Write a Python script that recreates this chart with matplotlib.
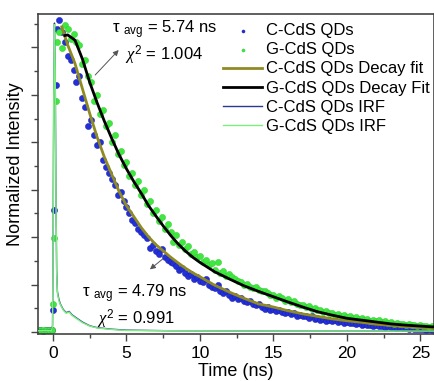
import numpy as np
import matplotlib
matplotlib.use("Agg")
import matplotlib.pyplot as plt

plt.rcParams['font.family'] = ['Liberation Sans', 'DejaVu Sans']
plt.rcParams['mathtext.fontset'] = 'custom'
plt.rcParams['mathtext.rm'] = 'Liberation Sans'
plt.rcParams['mathtext.it'] = 'Liberation Serif:italic'

# channel times (ns) of the TCSPC histograms
time_ns = [-0.9, -0.7, -0.5, -0.3, -0.1, 0.0, 0.1, 0.2, 0.3, 0.4,
           0.6, 0.8, 1.0, 1.2, 1.4, 1.6, 1.8, 2.0, 2.2, 2.4,
           2.6, 2.8, 3.0, 3.2, 3.4, 3.6, 3.8, 4.0, 4.2, 4.4,
           4.6, 4.8, 5.0, 5.2, 5.4, 5.6, 5.8, 6.0, 6.2, 6.4,
           6.6, 6.8, 7.0, 7.2, 7.4, 7.6, 7.8, 8.0, 8.2, 8.4,
           8.6, 8.8, 9.0, 9.2, 9.4, 9.6, 9.8, 10.0, 10.2, 10.4,
           10.6, 10.8, 11.0, 11.2, 11.4, 11.6, 11.8, 12.0, 12.2, 12.4,
           12.6, 12.8, 13.0, 13.2, 13.4, 13.6, 13.8, 14.0, 14.2, 14.4,
           14.6, 14.8, 15.0, 15.2, 15.4, 15.6, 15.8, 16.0, 16.2, 16.4,
           16.6, 16.8, 17.0, 17.2, 17.4, 17.6, 17.8, 18.0, 18.2, 18.4,
           18.6, 18.8, 19.0, 19.2, 19.4, 19.6, 19.8, 20.0, 20.2, 20.4,
           20.6, 20.8, 21.0, 21.2, 21.4, 21.6, 21.8, 22.0, 22.2, 22.4,
           22.6, 22.8, 23.0, 23.2, 23.4, 23.6, 23.8, 24.0, 24.2, 24.4,
           24.6, 24.8, 25.0, 25.2, 25.4, 25.6, 25.8]

c_cds = [0.006, 0.004, 0.007, 0.005, 0.006, 0.07, 0.39, 0.79, 0.97, 1.0,
         0.96, 0.93, 0.885, 0.87, 0.84, 0.80, 0.82, 0.75, 0.72, 0.66,
         0.68, 0.63, 0.60, 0.61, 0.55, 0.53, 0.51, 0.49, 0.47, 0.44,
         0.45, 0.42, 0.40, 0.38, 0.36, 0.35, 0.33, 0.32, 0.31, 0.30,
         0.27, 0.28, 0.26, 0.25, 0.265, 0.24, 0.23, 0.225, 0.22, 0.21,
         0.20, 0.205, 0.19, 0.18, 0.185, 0.17, 0.175, 0.165, 0.16, 0.17,
         0.15, 0.145, 0.14, 0.15, 0.13, 0.125, 0.13, 0.12, 0.11, 0.115,
         0.105, 0.11, 0.10, 0.095, 0.10, 0.09, 0.085, 0.09, 0.08, 0.075,
         0.08, 0.07, 0.075, 0.068, 0.07, 0.065, 0.06, 0.065, 0.058, 0.06,
         0.052, 0.055, 0.05, 0.052, 0.045, 0.05, 0.042, 0.045, 0.04, 0.043,
         0.036, 0.04, 0.035, 0.038, 0.032, 0.035, 0.03, 0.033, 0.028, 0.03,
         0.025, 0.028, 0.024, 0.027, 0.022, 0.024, 0.02, 0.022, 0.018, 0.02,
         0.016, 0.018, 0.015, 0.017, 0.013, 0.015, 0.012, 0.014, 0.011, 0.012,
         0.01, 0.011, 0.009, 0.01, 0.008, 0.009, 0.008]

g_cds = [0.008, 0.005, 0.007, 0.006, 0.008, 0.09, 0.30, 0.74, 0.93, 0.96,
         0.91, 0.985, 0.97, 0.94, 0.955, 0.93, 0.92, 0.86, 0.87, 0.82,
         0.80, 0.74, 0.76, 0.70, 0.71, 0.66, 0.67, 0.61, 0.63, 0.57,
         0.58, 0.535, 0.545, 0.50, 0.51, 0.47, 0.485, 0.44, 0.455, 0.41,
         0.42, 0.38, 0.39, 0.355, 0.37, 0.33, 0.345, 0.32, 0.29, 0.31,
         0.28, 0.29, 0.265, 0.275, 0.25, 0.255, 0.24, 0.245, 0.225, 0.23,
         0.215, 0.22, 0.20, 0.225, 0.19, 0.195, 0.18, 0.185, 0.175, 0.17,
         0.165, 0.16, 0.15, 0.155, 0.145, 0.14, 0.145, 0.135, 0.13, 0.13,
         0.125, 0.12, 0.12, 0.11, 0.115, 0.11, 0.10, 0.105, 0.095, 0.10,
         0.09, 0.085, 0.088, 0.08, 0.082, 0.075, 0.078, 0.07, 0.072, 0.065,
         0.066, 0.06, 0.062, 0.055, 0.058, 0.052, 0.054, 0.048, 0.05, 0.045,
         0.047, 0.042, 0.044, 0.04, 0.041, 0.036, 0.039, 0.034, 0.037, 0.032,
         0.034, 0.03, 0.031, 0.027, 0.029, 0.025, 0.027, 0.023, 0.025, 0.021,
         0.023, 0.019, 0.021, 0.018, 0.02, 0.016, 0.018]

# fitted decays
c_fit_t = [0.6, 1.0, 1.5, 2.0, 2.5, 3.0, 3.5, 4.0, 4.5, 5.0, 5.5, 6.0, 6.5, 7.0,
           7.5, 8.0, 8.5, 9.0, 9.5, 10.0, 11.0, 12.0, 13.0, 14.0, 15.0, 16.0,
           17.0, 18.0, 19.0, 20.0, 21.0, 22.0, 23.0, 24.0, 25.0, 26.0]
c_fit = [0.978, 0.92, 0.86, 0.78, 0.70, 0.625, 0.56, 0.505, 0.45, 0.405, 0.37,
         0.335, 0.305, 0.28, 0.26, 0.24, 0.222, 0.205, 0.19, 0.177, 0.15, 0.128,
         0.108, 0.09, 0.08, 0.068, 0.058, 0.05, 0.042, 0.036, 0.031, 0.025,
         0.021, 0.017, 0.014, 0.012]

g_fit_t = [0.8, 1.0, 1.5, 2.0, 2.5, 3.0, 3.5, 4.0, 4.5, 5.0, 5.5, 6.0, 6.5, 7.0,
           7.5, 8.0, 8.5, 9.0, 9.5, 10.0, 11.0, 12.0, 13.0, 14.0, 15.0, 16.0,
           17.0, 18.0, 19.0, 20.0, 21.0, 22.0, 23.0, 24.0, 25.0, 26.0]
g_fit = [0.95, 0.952, 0.935, 0.875, 0.80, 0.735, 0.675, 0.62, 0.568, 0.523,
         0.482, 0.445, 0.405, 0.372, 0.34, 0.31, 0.283, 0.26, 0.24, 0.223, 0.193,
         0.17, 0.148, 0.13, 0.113, 0.096, 0.08, 0.065, 0.054, 0.044, 0.038,
         0.032, 0.026, 0.022, 0.019, 0.016]

# instrument response functions
irf_t = [-1.0, -0.5, -0.1, -0.03, 0.0, 0.05, 0.1, 0.15, 0.2, 0.25, 0.3, 0.4,
         0.5, 0.7, 0.9, 1.1, 1.3, 1.6, 2.0, 2.5, 3.0, 4.0, 5.0, 8.0, 15.0, 26.0]
c_irf = [0.005, 0.005, 0.006, 0.02, 0.2, 0.75, 0.99, 0.85, 0.45, 0.2, 0.13,
         0.105, 0.09, 0.072, 0.062, 0.066, 0.055, 0.045, 0.032, 0.02, 0.014,
         0.009, 0.006, 0.004, 0.003, 0.003]
g_irf = [0.004, 0.005, 0.005, 0.018, 0.19, 0.74, 0.985, 0.84, 0.44, 0.19, 0.125,
         0.1, 0.088, 0.07, 0.06, 0.064, 0.053, 0.043, 0.03, 0.019, 0.013,
         0.008, 0.005, 0.004, 0.003, 0.003]

fig = plt.figure(figsize=(4.35, 3.81), dpi=100)
ax = fig.add_axes([38/435, 47/381, 396/435, 320/381])

ax.scatter(time_ns, c_cds, s=20, color='#2130d8', edgecolors='#1a1aa0',
           linewidths=0.3, label='C-CdS QDs', zorder=2)
ax.scatter(time_ns, g_cds, s=20, color='#3ee83e', edgecolors='#2fc82f',
           linewidths=0.3, label='G-CdS QDs', zorder=2)
ax.plot(c_fit_t, c_fit, color='#8f8b22', lw=2, label='C-CdS QDs Decay fit', zorder=3)
ax.plot(g_fit_t, g_fit, color='black', lw=2, label='G-CdS QDs Decay Fit', zorder=3)
ax.plot(irf_t, c_irf, color='#2b3990', lw=1, label='C-CdS QDs IRF', zorder=4)
ax.plot(irf_t, g_irf, color='#7cf07c', lw=1, label='G-CdS QDs IRF', zorder=4)

ax.set_xticks([0, 5, 10, 15, 20, 25])
ax.set_xticks(np.arange(2.5, 26, 5), minor=True)
ax.set_yticks(np.arange(0, 1.0, 0.152))
ax.set_yticks(np.arange(0.076, 1.0, 0.152), minor=True)
ax.set_yticklabels([])
ax.set_xlim(-1.02, 25.93)
ax.set_ylim(-0.0064, 1.019)
ax.tick_params(axis='both', which='major', length=5, width=1, color='#444444',
               labelsize=12.5, pad=4)
ax.tick_params(axis='both', which='minor', length=3, width=1, color='#444444')
for sp in ax.spines.values():
    sp.set_color('#444444')
    sp.set_linewidth(1.2)

ax.set_xlabel('Time (ns)', fontsize=13, labelpad=1)
ax.set_ylabel('Normalized Intensity', fontsize=13)
ax.yaxis.set_label_coords(-0.035, 0.53)

arrow = dict(arrowstyle='-|>', color='#555555', lw=0.7, mutation_scale=8)
ax.annotate('', xy=(4.6, 0.91), xytext=(2.74, 0.817), arrowprops=arrow)
ax.annotate('', xy=(6.45, 0.195), xytext=(7.62, 0.24), arrowprops=arrow)

ax.text(4.0, 0.968, r'τ $_{\mathrm{avg}}$ = 5.74 ns', fontsize=12, va='center')
ax.text(4.9, 0.886, r'$\chi^{\mathrm{2}}$ = 1.004', fontsize=12, va='center')
ax.text(1.97, 0.121, r'τ $_{\mathrm{avg}}$ = 4.79 ns', fontsize=12, va='center')
ax.text(3.0, 0.041, r'$\chi^{\mathrm{2}}$ = 0.991', fontsize=12, va='center')

ax.legend(loc='upper right', bbox_to_anchor=(1.012, 1.0), frameon=False,
          fontsize=12, handlelength=2.3, handletextpad=0.25, labelspacing=0.25,
          borderaxespad=0.1, markerscale=0.5, borderpad=0.45)

fig.savefig('out.png', dpi=100)
